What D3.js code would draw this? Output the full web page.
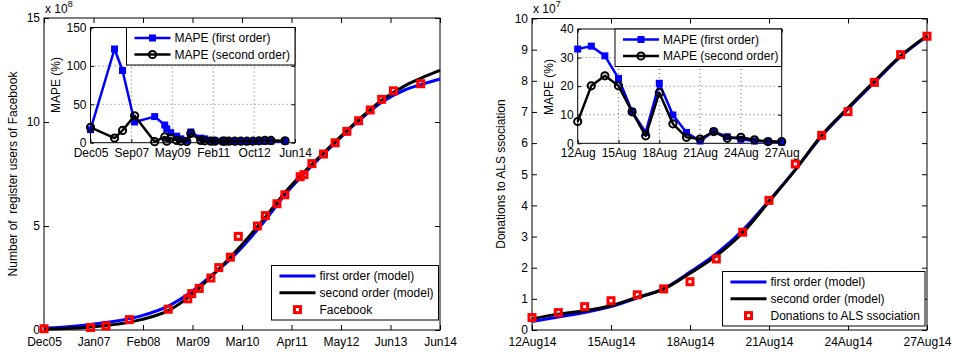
<!DOCTYPE html>
<html>
<head>
<meta charset="utf-8">
<script src="https://cdn.jsdelivr.net/npm/d3@7"></script>
<style>
body { margin: 0; background: #fff; }
</style>
</head>
<body>
<script>
// ---- Facebook (left panel), users in units of 10^8 ----
let fbMonths = ["2005-12", "2006-12", "2007-04", "2007-10", "2008-08", "2009-01", "2009-02", "2009-04",
    "2009-07", "2009-09", "2009-12", "2010-02", "2010-07", "2010-09", "2010-12", "2011-02", "2011-06",
    "2011-07", "2011-09", "2011-12", "2012-03", "2012-06", "2012-09", "2012-12", "2013-03", "2013-06", "2014-01"];
let fbUsers = [0.06, 0.12, 0.2, 0.5, 1.0, 1.5, 1.75, 2.0, 2.5, 3.0, 3.5, 4.5, 5.0, 5.5, 6.07, 6.5, 7.37,
    7.47, 8.0, 8.46, 9.0, 9.55, 10.06, 10.58, 11.09, 11.5, 11.84];
let fbMapeFirst = [17, 122, 94, 27, 34, 23, 18, 13, 8.5, 5, 3, 14, 6, 5, 3, 2.5, 2, 2, 1.5, 1.5, 1.5, 1.5,
    1.5, 2, 2, 2, 2];
let fbMapeSecond = [20, 6, 16, 35, 1.3, 7.5, 2, 6, 3, 2, 1.5, 12, 3, 2.5, 2, 2, 2, 2, 2, 2, 2, 2, 2, 2.5,
    3, 3, 2.5];
let fbModelMonths = ["2005-12", "2006-12", "2008-01", "2008-08", "2009-02", "2009-07", "2009-12", "2010-03",
    "2010-08", "2011-03", "2011-09", "2012-03", "2012-09", "2013-03", "2013-09", "2014-01", "2014-06"];
let fbModelFirst = [0.08, 0.27, 0.68, 1.15, 1.85, 2.6, 3.4, 3.97, 5.05, 6.7, 7.9, 9.0, 10.05, 10.95, 11.55, 11.8, 12.07];
let fbModelSecond = [0.04, 0.14, 0.5, 0.93, 1.7, 2.55, 3.5, 4.1, 5.2, 6.8, 7.97, 9.05, 10.1, 11.05, 11.75, 12.1, 12.48];
let fbTickLabels = ["Dec05", "Jan07", "Feb08", "Mar09", "Mar10", "Apr11", "May12", "Jun13", "Jun14"];
let fbInsetTickLabels = ["Dec05", "Sep07", "May09", "Feb11", "Oct12", "Jun14"];
let fbYTicks = [0, 5, 10, 15];
let fbInsetYTicks = [0, 50, 100, 150];

// ---- ALS ice bucket (right panel), donations in units of 10^7 ----
let alsDays = ["2014-08-12", "2014-08-13", "2014-08-14", "2014-08-15", "2014-08-16", "2014-08-17",
    "2014-08-18", "2014-08-19", "2014-08-20", "2014-08-21", "2014-08-22", "2014-08-23", "2014-08-24",
    "2014-08-25", "2014-08-26", "2014-08-27"];
let alsDonations = [0.40, 0.56, 0.75, 0.94, 1.13, 1.32, 1.55, 2.28, 3.14, 4.16, 5.33, 6.25, 7.01, 7.95, 8.84, 9.43];
let alsModelFirst = [0.27, 0.42, 0.56, 0.75, 1.03, 1.33, 1.86, 2.45, 3.2, 4.15, 5.15, 6.22, 7.1, 7.95, 8.78, 9.43];
let alsModelSecond = [0.36, 0.51, 0.62, 0.78, 1.05, 1.31, 1.82, 2.38, 3.12, 4.12, 5.14, 6.25, 7.13, 7.98, 8.8, 9.45];
let alsMapeFirst = [33, 34, 30.6, 22.7, 11.1, 3.8, 21, 9.9, 3.8, 0.8, 4.1, 2.3, 1.4, 0.8, 0.6, 0.35];
let alsMapeSecond = [7.6, 20.1, 23.6, 20.1, 11, 2.6, 17.7, 6.8, 2.1, 1.5, 4.1, 1.75, 2.1, 1.2, 0.6, 0.6];
let alsTickLabels = ["12Aug14", "15Aug14", "18Aug14", "21Aug14", "24Aug14", "27Aug14"];
let alsInsetTickLabels = ["12Aug", "15Aug", "18Aug", "21Aug", "24Aug", "27Aug"];
let alsYTicks = [0, 1, 2, 3, 4, 5, 6, 7, 8, 9, 10];
let alsInsetYTicks = [0, 10, 20, 30, 40];

const FONT = "'Liberation Sans', Arial, Helvetica, sans-serif";
const BLUE = "#0000ff";
const RED = "#ff0000";

let parseMonth = d3.timeParse("%Y-%m");
let parseDay = d3.timeParse("%Y-%m-%d");

let svg = d3.select("body")
    .append("svg")
    .attr("width", 953)
    .attr("height", 356)
    .style("font-family", FONT);

svg.append("rect").attr("width", 953).attr("height", 356).attr("fill", "#fff");

// evenly spaced ticks across a time domain, like matlab datetick
let spacedTicks = (scale, n) => {
    let [a, b] = scale.domain();
    return d3.range(n).map((i) => new Date(+a + i * (b - a) / (n - 1)));
};

let frame = (g, x, y, xTicks, xLabels, yTicks, tick, pad, grid) => {
    let [x0, x1] = x.range();
    let [y1, y0] = y.range();
    if (grid) {
        g.append("g").selectAll("line")
            .data(xTicks.slice(1, -1))
            .enter().append("line")
                .attr("x1", (d) => x(d)).attr("x2", (d) => x(d))
                .attr("y1", y0).attr("y2", y1)
                .attr("stroke", "#444").attr("stroke-width", 0.8)
                .attr("stroke-dasharray", "1,3");
        g.append("g").selectAll("line")
            .data(yTicks.slice(1, -1))
            .enter().append("line")
                .attr("y1", (d) => y(d)).attr("y2", (d) => y(d))
                .attr("x1", x0).attr("x2", x1)
                .attr("stroke", "#444").attr("stroke-width", 0.8)
                .attr("stroke-dasharray", "1,3");
    }
    let axes = [
        g.append("g").attr("transform", `translate(0,${y1})`)
            .call(d3.axisBottom(x).tickValues(xTicks).tickFormat((d, i) => xLabels[i]).tickSize(-tick).tickPadding(pad)),
        g.append("g").attr("transform", `translate(0,${y0})`)
            .call(d3.axisTop(x).tickValues(xTicks).tickFormat(() => "").tickSize(-tick)),
        g.append("g").attr("transform", `translate(${x0},0)`)
            .call(d3.axisLeft(y).tickValues(yTicks).tickFormat(d3.format("d")).tickSize(-tick).tickPadding(4)),
        g.append("g").attr("transform", `translate(${x1},0)`)
            .call(d3.axisRight(y).tickValues(yTicks).tickFormat(() => "").tickSize(-tick))
    ];
    axes.forEach((a) => {
        a.select(".domain").remove();
        a.attr("font-size", 12).attr("font-family", FONT);
        a.selectAll("text").attr("fill", "#000");
        a.selectAll("line").attr("stroke", "#000");
    });
    g.append("rect")
        .attr("x", x0).attr("y", y0)
        .attr("width", x1 - x0).attr("height", y1 - y0)
        .attr("fill", "none").attr("stroke", "#000").attr("stroke-width", 1);
};

let yLabel = (text, x, y) => {
    svg.append("text")
        .attr("transform", `translate(${x},${y}) rotate(-90)`)
        .attr("text-anchor", "middle")
        .attr("font-size", 12)
        .style("white-space", "pre")
        .text(text);
};

let exponent = (x, y, power) => {
    let t = svg.append("text").attr("x", x).attr("y", y).attr("font-size", 12);
    t.append("tspan").text("x 10");
    t.append("tspan").attr("dy", -6).attr("font-size", 9).text(power);
};

let squareMark = (g, pts, size, fill, stroke, sw) => {
    g.selectAll(null).data(pts).enter().append("rect")
        .attr("x", (d) => d[0] - size / 2).attr("y", (d) => d[1] - size / 2)
        .attr("width", size).attr("height", size)
        .attr("fill", fill).attr("stroke", stroke).attr("stroke-width", sw);
};

let circleMark = (g, pts) => {
    g.selectAll(null).data(pts).enter().append("circle")
        .attr("cx", (d) => d[0]).attr("cy", (d) => d[1]).attr("r", 3.6)
        .attr("fill", "none").attr("stroke", "#000").attr("stroke-width", 2);
};

let drawLine = (g, pts, color, width, curved) => {
    let line = d3.line();
    if (curved) line.curve(d3.curveMonotoneX);
    g.append("path").attr("d", line(pts))
        .attr("fill", "none").attr("stroke", color).attr("stroke-width", width)
        .attr("stroke-linejoin", "round");
};

// main legend (two model lines + data marker)
let mainLegend = (x, y, w, h, dataLabel) => {
    let g = svg.append("g").attr("font-size", 12);
    g.append("rect").attr("x", x).attr("y", y).attr("width", w).attr("height", h)
        .attr("fill", "#fff").attr("stroke", "#000");
    let rows = [{label: "first order (model)", color: BLUE},
                {label: "second order (model)", color: "#000"},
                {label: dataLabel, color: null}];
    rows.forEach((r, i) => {
        let cy = y + 10.5 + i * 16.8;
        if (r.color) {
            g.append("line").attr("x1", x + 8).attr("x2", x + 44).attr("y1", cy).attr("y2", cy)
                .attr("stroke", r.color).attr("stroke-width", 3);
        } else {
            squareMark(g, [[x + 26, cy]], 6, "none", RED, 3);
        }
        g.append("text").attr("x", x + 48).attr("y", cy + 4.3).text(r.label);
    });
};

// inset legend (two MAPE lines)
let insetLegend = (x, y, w, h) => {
    let g = svg.append("g").attr("font-size", 12);
    g.append("rect").attr("x", x).attr("y", y).attr("width", w).attr("height", h)
        .attr("fill", "#fff").attr("stroke", "#000");
    let cy1 = y + 10.5, cy2 = y + 27;
    g.append("line").attr("x1", x + 8).attr("x2", x + 44).attr("y1", cy1).attr("y2", cy1)
        .attr("stroke", BLUE).attr("stroke-width", 2.5);
    squareMark(g, [[x + 26, cy1]], 7, BLUE, "none", 0);
    g.append("line").attr("x1", x + 8).attr("x2", x + 44).attr("y1", cy2).attr("y2", cy2)
        .attr("stroke", "#000").attr("stroke-width", 2.5);
    circleMark(g, [[x + 26, cy2]]);
    g.append("text").attr("x", x + 48).attr("y", cy1 + 4.3).text("MAPE (first order)");
    g.append("text").attr("x", x + 48).attr("y", cy2 + 4.3).text("MAPE (second order)");
};

// ================= LEFT PANEL =================
let fbX = d3.scaleTime().domain([parseMonth("2005-12"), parseMonth("2014-06")]).range([44, 440]);
let fbY = d3.scaleLinear().domain([0, 15]).range([330, 18]);
let left = svg.append("g");
frame(left, fbX, fbY, spacedTicks(fbX, 9), fbTickLabels, fbYTicks, 5, 7, false);

let fbModelDates = fbModelMonths.map(parseMonth);
drawLine(left, fbModelDates.map((d, i) => [fbX(d), fbY(fbModelFirst[i])]), BLUE, 3, true);
drawLine(left, fbModelDates.map((d, i) => [fbX(d), fbY(fbModelSecond[i])]), "#000", 3, true);
squareMark(left, fbMonths.map((m, i) => [fbX(parseMonth(m)), fbY(fbUsers[i])]), 6, "none", RED, 3);

yLabel("Number of  register users of Facebook", 17, 174);
exponent(45, 13, "8");
mainLegend(271.5, 265.5, 167, 54.5, "Facebook");

// left inset
let fbIX = d3.scaleTime().domain(fbX.domain()).range([90.5, 295]);
let fbIY = d3.scaleLinear().domain([0, 150]).range([142.7, 27.5]);
let fbInset = svg.append("g");
fbInset.append("rect").attr("x", 90.5).attr("y", 27.5).attr("width", 204.5).attr("height", 115.2).attr("fill", "#fff");
frame(fbInset, fbIX, fbIY, spacedTicks(fbIX, 6), fbInsetTickLabels, fbInsetYTicks, 3.5, 5.5, true);
let fbDates = fbMonths.map(parseMonth);
let fbM1 = fbDates.map((d, i) => [fbIX(d), fbIY(fbMapeFirst[i])]);
let fbM2 = fbDates.map((d, i) => [fbIX(d), fbIY(fbMapeSecond[i])]);
drawLine(fbInset, fbM1, BLUE, 2.5, false);
squareMark(fbInset, fbM1, 7, BLUE, "none", 0);
drawLine(fbInset, fbM2, "#000", 2.5, false);
circleMark(fbInset, fbM2);
svg.append("text")
    .attr("transform", "translate(60,85) rotate(-90)")
    .attr("text-anchor", "middle").attr("font-size", 12).text("MAPE (%)");
insetLegend(126.5, 27.5, 168.5, 37.5);

// ================= RIGHT PANEL =================
let alsX = d3.scaleTime().domain([parseDay("2014-08-12"), parseDay("2014-08-27")]).range([532, 927]);
let alsY = d3.scaleLinear().domain([0, 10]).range([330, 18.5]);
let right = svg.append("g");
frame(right, alsX, alsY, spacedTicks(alsX, 6), alsTickLabels, alsYTicks, 5, 7, false);

let alsDates = alsDays.map(parseDay);
drawLine(right, alsDates.map((d, i) => [alsX(d), alsY(alsModelFirst[i])]), BLUE, 3, true);
drawLine(right, alsDates.map((d, i) => [alsX(d), alsY(alsModelSecond[i])]), "#000", 3, true);
squareMark(right, alsDates.map((d, i) => [alsX(d), alsY(alsDonations[i])]), 6, "none", RED, 3);

yLabel("Donations to ALS ssociation", 505, 174);
exponent(533, 13, "7");
mainLegend(722.5, 271.5, 202.5, 54.5, "Donations to ALS ssociation");

// right inset
let alsIX = d3.scaleTime().domain(alsX.domain()).range([577.7, 781.7]);
let alsIY = d3.scaleLinear().domain([0, 40]).range([143.3, 29]);
let alsInset = svg.append("g");
alsInset.append("rect").attr("x", 577.7).attr("y", 29).attr("width", 204).attr("height", 114.3).attr("fill", "#fff");
frame(alsInset, alsIX, alsIY, spacedTicks(alsIX, 6), alsInsetTickLabels, alsInsetYTicks, 3.5, 5.5, true);
let alsM1 = alsDates.map((d, i) => [alsIX(d), alsIY(alsMapeFirst[i])]);
let alsM2 = alsDates.map((d, i) => [alsIX(d), alsIY(alsMapeSecond[i])]);
drawLine(alsInset, alsM1, BLUE, 2.5, false);
squareMark(alsInset, alsM1, 7, BLUE, "none", 0);
drawLine(alsInset, alsM2, "#000", 2.5, false);
circleMark(alsInset, alsM2);
svg.append("text")
    .attr("transform", "translate(553,87) rotate(-90)")
    .attr("text-anchor", "middle").attr("font-size", 12).text("MAPE (%)");
insetLegend(615, 29, 166.7, 37.5);
</script>
</body>
</html>
